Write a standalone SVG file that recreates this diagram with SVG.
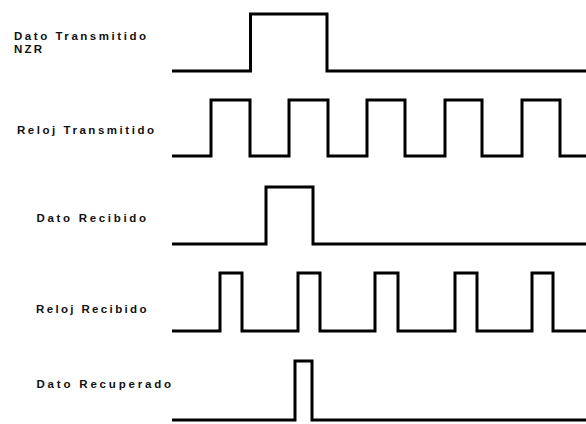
<svg xmlns="http://www.w3.org/2000/svg" width="586" height="424" viewBox="0 0 586 424">
  <style>
    .lbl { font-family: "Liberation Sans", Arial, sans-serif; font-size: 11.5px; font-weight: bold; fill: #111; }
    .wave { fill: none; stroke: #000; stroke-width: 3; stroke-linejoin: miter; stroke-linecap: butt; }
  </style>
  <rect width="586" height="424" fill="#fff"/>
  <g id="dato-transmitido">
    <text class="lbl" x="14" y="39.5" textLength="132" lengthAdjust="spacing">Dato Transmitido</text>
    <text class="lbl" x="14" y="52.5" textLength="28" lengthAdjust="spacing">NZR</text>
    <path class="wave" d="M172,71 H250.5 V14 H327 V71 H586"/>
  </g>
  <g id="reloj-transmitido">
    <text class="lbl" x="17" y="134" textLength="137" lengthAdjust="spacing">Reloj Transmitido</text>
    <path class="wave" d="M172,156 H211 V100 H250 V156 H289 V100 H328 V156 H367 V100 H405 V156 H445 V100 H482 V156 H522 V100 H560 V156 H586"/>
  </g>
  <g id="dato-recibido">
    <text class="lbl" x="36.5" y="221.5" textLength="109.5" lengthAdjust="spacing">Dato Recibido</text>
    <path class="wave" d="M172,244 H266 V187 H313 V244 H586"/>
  </g>
  <g id="reloj-recibido">
    <text class="lbl" x="36" y="313" textLength="110.5" lengthAdjust="spacing">Reloj Recibido</text>
    <path class="wave" d="M172,331 H220 V273 H242 V331 H298 V273 H320 V331 H375 V273 H398 V331 H455 V273 H477 V331 H532 V273 H553 V331 H586"/>
  </g>
  <g id="dato-recuperado">
    <text class="lbl" x="36.5" y="387.5" textLength="134.5" lengthAdjust="spacing">Dato Recuperado</text>
    <path class="wave" d="M172,420 H295 V361 H312 V420 H586"/>
  </g>
</svg>
